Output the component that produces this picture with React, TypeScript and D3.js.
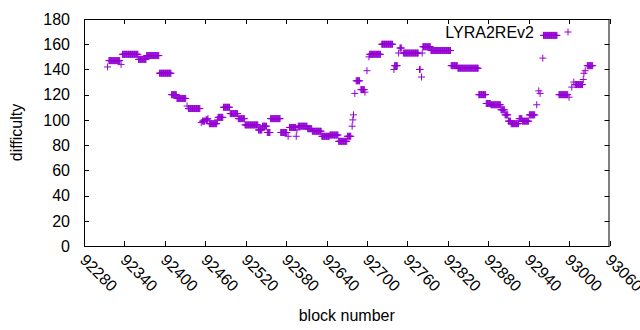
import { scaleLinear, select } from "d3";
import { useEffect, useRef } from "react";

const seriesName = "LYRA2REv2";
const xTicks = [
  92280, 92340, 92400, 92460, 92520, 92580, 92640, 92700, 92760, 92820, 92880,
  92940, 93000, 93060,
];
const yTicks = [0, 20, 40, 60, 80, 100, 120, 140, 160, 180];

// runs of consecutive blocks with the same difficulty: first block, last block, value
const runStart = [
  92315, 92317, 92335, 92337, 92361, 92373, 92392, 92410, 92418, 92433, 92435,
  92454, 92456, 92461, 92464, 92466, 92478, 92479, 92487, 92497, 92509, 92519,
  92539, 92545, 92552, 92557, 92572, 92583, 92585, 92595, 92596, 92598, 92612,
  92619, 92633, 92645, 92658, 92671, 92678, 92679, 92680, 92682, 92684, 92691,
  92697, 92700, 92703, 92704, 92722, 92740, 92741, 92747, 92749, 92754, 92778,
  92781, 92782, 92783, 92795, 92825, 92835, 92866, 92877, 92884, 92899, 92905,
  92910, 92914, 92926, 92931, 92941, 92952, 92955, 92957, 92961, 92962, 92985,
  93000, 93004, 93007, 93009, 93021, 93022, 93024, 93027,
];
const runEnd = [
  92315, 92333, 92335, 92360, 92372, 92391, 92409, 92417, 92431, 92433, 92452,
  92454, 92459, 92463, 92464, 92477, 92478, 92486, 92496, 92508, 92518, 92538,
  92544, 92551, 92556, 92571, 92581, 92583, 92594, 92595, 92596, 92611, 92618,
  92632, 92644, 92657, 92670, 92676, 92678, 92679, 92680, 92682, 92689, 92696,
  92697, 92700, 92703, 92720, 92738, 92740, 92745, 92747, 92751, 92776, 92779,
  92781, 92782, 92794, 92824, 92834, 92865, 92876, 92883, 92898, 92904, 92909,
  92913, 92925, 92930, 92940, 92949, 92952, 92955, 92957, 92961, 92982, 92998,
  93000, 93004, 93007, 93020, 93021, 93022, 93024, 93035,
];
const runValue = [
  142, 147, 144, 152, 148, 151, 137, 120, 117, 111, 109, 98, 99, 100, 101, 97,
  100, 102, 110, 105, 101, 96, 92, 95, 90, 101, 90, 87, 94, 87, 92, 95, 93, 91,
  87, 88, 83, 87, 95, 100, 104, 121, 131, 124, 122, 139, 150, 152, 160, 140,
  143, 153, 157, 153, 140, 134, 153, 158, 155, 143, 141, 120, 113, 112, 108,
  104, 99, 97, 101, 99, 104, 112, 123, 121, 149, 167, 120, 118, 126, 130, 128,
  132, 137, 139, 143,
];

const W = 640;
const H = 330;
const left = 84;
const right = 609.5;
const top = 19;
const bottom = 246;
const color = "#9400d3";
const font = "'Liberation Sans', Arial, sans-serif";
const fontSize = 16;

function plus(x: number, y: number, r = 3.5) {
  return `M${x - r},${y}h${2 * r}M${x},${y - r}v${2 * r}`;
}

function App() {
  const svgRef = useRef<SVGSVGElement>(null);

  useEffect(() => {
    const svg = select(svgRef.current);
    svg.selectAll("*").remove();

    const x = scaleLinear().domain([92280, 93060]).range([left, right]);
    const y = scaleLinear().domain([0, 180]).range([bottom, top]);

    const points: { block: number; value: number }[] = [];
    runStart.forEach((s, i) => {
      for (let b = s; b <= runEnd[i]; b++) points.push({ block: b, value: runValue[i] });
    });

    // ticks (inward, mirrored)
    const ticks = svg.append("g").attr("stroke", "#000").attr("stroke-width", 1);
    yTicks.forEach((t) => {
      const yy = Math.round(y(t)) + 0.5;
      ticks.append("line").attr("x1", left).attr("x2", left + 5).attr("y1", yy).attr("y2", yy);
      ticks.append("line").attr("x1", right - 5).attr("x2", right).attr("y1", yy).attr("y2", yy);
    });
    xTicks.forEach((t) => {
      const xx = Math.round(x(t)) + 0.5;
      ticks.append("line").attr("x1", xx).attr("x2", xx).attr("y1", bottom).attr("y2", bottom - 5);
      ticks.append("line").attr("x1", xx).attr("x2", xx).attr("y1", top).attr("y2", top + 5);
    });

    svg
      .append("rect")
      .attr("x", left + 0.5)
      .attr("y", top + 0.5)
      .attr("width", right - left - 1)
      .attr("height", bottom - top)
      .attr("fill", "none")
      .attr("stroke", "#000");

    svg
      .append("g")
      .selectAll("text")
      .data(yTicks)
      .join("text")
      .attr("x", left - 14)
      .attr("y", (d) => y(d))
      .attr("dy", "0.36em")
      .attr("text-anchor", "end")
      .attr("font-family", font)
      .attr("font-size", fontSize)
      .text((d) => d);

    svg
      .append("g")
      .selectAll("text")
      .data(xTicks)
      .join("text")
      .attr("transform", (d) => `translate(${x(d) - 5},${bottom + 15}) rotate(45)`)
      .attr("text-anchor", "start")
      .attr("font-family", font)
      .attr("font-size", fontSize)
      .text((d) => d);

    svg
      .append("text")
      .attr("x", (left + right) / 2)
      .attr("y", 321)
      .attr("text-anchor", "middle")
      .attr("font-family", font)
      .attr("font-size", fontSize)
      .text("block number");

    svg
      .append("text")
      .attr("transform", `translate(22,${(top + bottom) / 2}) rotate(-90)`)
      .attr("text-anchor", "middle")
      .attr("font-family", font)
      .attr("font-size", fontSize)
      .text("difficulty");

    svg
      .append("path")
      .attr("d", points.map((p) => plus(x(p.block), y(p.value))).join(""))
      .attr("fill", "none")
      .attr("stroke", color)
      .attr("stroke-width", 1);

    // key
    svg
      .append("text")
      .attr("x", 534)
      .attr("y", 32)
      .attr("dy", "0.36em")
      .attr("text-anchor", "end")
      .attr("font-family", font)
      .attr("font-size", fontSize)
      .text(seriesName);
    svg
      .append("path")
      .attr("d", plus(568, 32))
      .attr("fill", "none")
      .attr("stroke", color)
      .attr("stroke-width", 1);
  }, []);

  return (
    <svg
      ref={svgRef}
      width={W}
      height={H}
      style={{ position: "absolute", left: 0, top: 0, background: "#fff" }}
    />
  );
}

export default App;
